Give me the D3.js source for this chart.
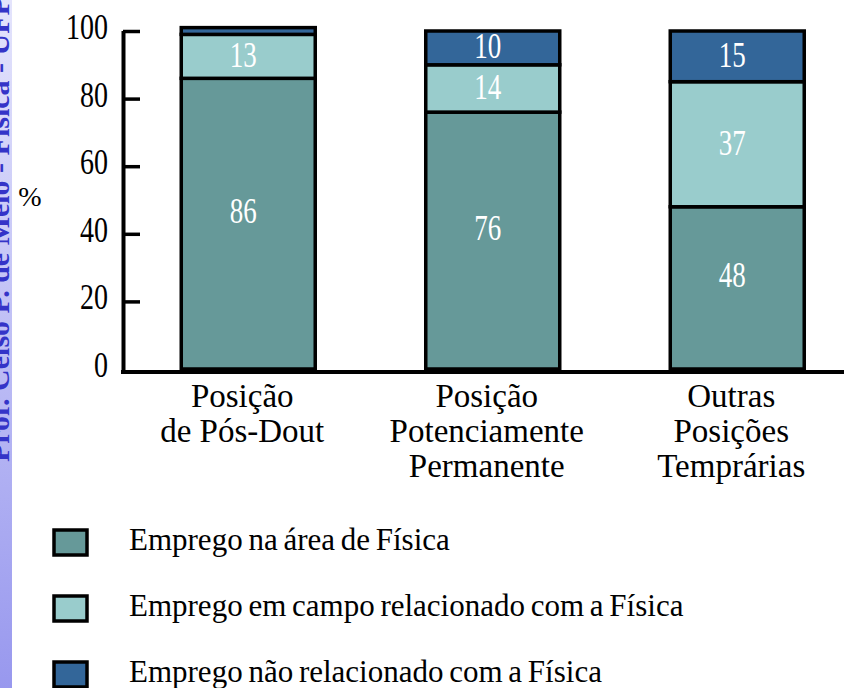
<!DOCTYPE html>
<html>
<head>
<meta charset="utf-8">
<script src="https://cdn.jsdelivr.net/npm/d3@7"></script>
<style>
  body { margin: 0; background: #fff; }
  svg { display: block; }
  svg text { font-family: "Liberation Serif", "Times New Roman", serif; }
</style>
</head>
<body>
<div id="chart"></div>
<script>
//chart data
var categoryLines = [
    ["Posição", "de Pós-Dout"],
    ["Posição", "Potenciamente", "Permanente"],
    ["Outras", "Posições", "Temprárias"]
];
var seriesNames = [
    "Emprego na área de Física",
    "Emprego em campo relacionado com a Física",
    "Emprego não relacionado com a Física"
];
var areaFisica = [86, 76, 48];
var campoRelacionado = [13, 14, 37];
var naoRelacionado = [2, 10, 15];
var yTicks = [0, 20, 40, 60, 80, 100];
var seriesColors = ["#669999", "#99cccc", "#336699"];

//svg dimensions
var svgWidth = 844;
var svgHeight = 688;

var svg = d3.select("#chart").append("svg")
    .attr("width", svgWidth)
    .attr("height", svgHeight);

svg.append("rect")
    .attr("width", svgWidth)
    .attr("height", svgHeight)
    .attr("fill", "#fff");

//left decorative strip
var defs = svg.append("defs");
var grad = defs.append("linearGradient")
    .attr("id", "stripGrad")
    .attr("x1", 0).attr("y1", 0)
    .attr("x2", 0).attr("y2", 1);
grad.append("stop").attr("offset", "0%").attr("stop-color", "#e4e4fc");
grad.append("stop").attr("offset", "100%").attr("stop-color", "#9898ee");

defs.append("clipPath").attr("id", "stripClip")
    .append("rect").attr("width", 12).attr("height", svgHeight);

var strip = svg.append("g").attr("clip-path", "url(#stripClip)");
strip.append("rect")
    .attr("width", 12)
    .attr("height", svgHeight)
    .attr("fill", "url(#stripGrad)");
strip.append("text")
    .attr("transform", "translate(9, 462) rotate(-90)")
    .attr("font-weight", "bold")
    .attr("font-size", "30px")
    .attr("fill", "#3434c8")
    .text("Prof. Celso P. de Melo - Física - UFPE");

//build table for stacking
var table = categoryLines.map(function(c, i) {
    return {idx: i, s0: areaFisica[i], s1: campoRelacionado[i], s2: naoRelacionado[i]};
});
var stacked = d3.stack().keys(["s0", "s1", "s2"])(table);

//scales
var x = d3.scaleBand()
    .domain(d3.range(categoryLines.length))
    .range([126, 859.5])
    .paddingInner(0.452)
    .paddingOuter(0.226);

var y = d3.scaleLinear()
    .domain([0, 100])
    .range([369, 31]);

//bars
var layers = svg.selectAll(".layer")
    .data(stacked)
    .enter()
    .append("g")
    .attr("class", "layer")
    .attr("fill", function(d, i) { return seriesColors[i]; });

layers.selectAll("rect")
    .data(function(d) { return d; })
    .enter()
    .append("rect")
    .attr("x", function(d) { return x(d.data.idx); })
    .attr("y", function(d) { return y(d[1]); })
    .attr("width", x.bandwidth())
    .attr("height", function(d) { return y(d[0]) - y(d[1]); })
    .attr("stroke", "#000")
    .attr("stroke-width", 3.5);

//value labels
layers.each(function(layer, li) {
    d3.select(this).selectAll(".val")
        .data(layer.filter(function(d) { return d[1] - d[0] >= 5; }))
        .enter()
        .append("text")
        .attr("class", "val")
        .attr("transform", function(d) {
            var cx = x(d.data.idx) + x.bandwidth() / 2 - 5;
            var cy = (y(d[0]) + y(d[1])) / 2 + (li === 0 ? -12 : -1);
            return "translate(" + cx + "," + cy + ") scale(1,1.3)";
        })
        .attr("dy", "0.33em")
        .attr("text-anchor", "middle")
        .attr("font-size", "27px")
        .attr("fill", "#fff")
        .text(function(d) { return d[1] - d[0]; });
});

//y axis
var leftAxis = d3.axisLeft(y)
    .tickValues(yTicks)
    .tickSize(-17)
    .tickSizeOuter(0)
    .tickPadding(15);

var yAxis = svg.append("g")
    .attr("transform", "translate(123, 0)")
    .call(leftAxis);

yAxis.select(".domain")
    .attr("stroke-width", 4)
    .attr("d", "M0.5," + (y(0) + 5) + "V" + y(100));
yAxis.selectAll(".tick line")
    .attr("stroke-width", 3.5)
    .attr("opacity", function(d) { return d === 0 ? 0 : 1; });
yAxis.selectAll(".tick text")
    .attr("font-family", null)
    .attr("font-size", "28px")
    .attr("fill", "#000")
    .attr("dy", "0.33em")
    .attr("transform", "translate(0,-4) scale(1,1.25)");
yAxis.attr("font-family", null);

//x axis line
svg.append("line")
    .attr("x1", 121)
    .attr("x2", svgWidth)
    .attr("y1", y(0) + 3)
    .attr("y2", y(0) + 3)
    .attr("stroke", "#000")
    .attr("stroke-width", 4);

//category labels
var catText = svg.selectAll(".cat")
    .data(categoryLines)
    .enter()
    .append("text")
    .attr("class", "cat")
    .attr("text-anchor", "middle")
    .attr("font-size", "33px")
    .attr("fill", "#000");

catText.selectAll("tspan")
    .data(function(d, i) { return d.map(function(t) { return {t: t, i: i}; }); })
    .enter()
    .append("tspan")
    .attr("x", function(d) { return x(d.i) + x.bandwidth() / 2 - 6; })
    .attr("y", function(d, j) { return 407 + j * 35; })
    .text(function(d) { return d.t; });

//y label
svg.append("text")
    .attr("x", 30)
    .attr("y", 206)
    .attr("text-anchor", "middle")
    .attr("font-size", "28px")
    .text("%");

//legend
var legend = svg.selectAll(".legend")
    .data(seriesNames)
    .enter()
    .append("g")
    .attr("class", "legend")
    .attr("transform", function(d, i) { return "translate(0," + (i * 66) + ")"; });

legend.append("rect")
    .attr("x", 54)
    .attr("y", 530)
    .attr("width", 33)
    .attr("height", 25)
    .attr("fill", function(d, i) { return seriesColors[i]; })
    .attr("stroke", "#000")
    .attr("stroke-width", 3.5);

legend.append("text")
    .attr("x", 129)
    .attr("y", 550)
    .attr("font-size", "31px")
    .attr("word-spacing", "-2px")
    .attr("fill", "#000")
    .text(function(d) { return d; });
</script>
</body>
</html>
